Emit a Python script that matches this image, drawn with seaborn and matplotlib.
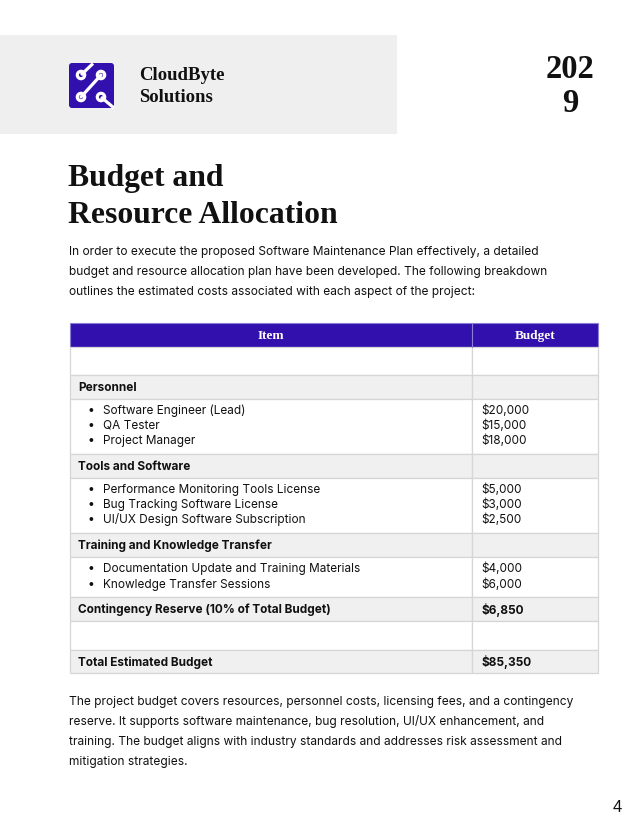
import matplotlib
matplotlib.use("Agg")
import matplotlib.pyplot as plt
import seaborn as sns
from matplotlib.patches import Rectangle, FancyBboxPatch, Circle

sns.set_style("white")
plt.rcParams['font.family'] = ['Inter', 'DejaVu Sans']

# page content
company = ["CloudByte", "Solutions"]
year_lines = ["202", "9"]
title_lines = ["Budget and", "Resource Allocation"]
intro_lines = [
    "In order to execute the proposed Software Maintenance Plan effectively, a detailed",
    "budget and resource allocation plan have been developed. The following breakdown",
    "outlines the estimated costs associated with each aspect of the project:",
]
outro_lines = [
    "The project budget covers resources, personnel costs, licensing fees, and a contingency",
    "reserve. It supports software maintenance, bug resolution, UI/UX enhancement, and",
    "training. The budget aligns with industry standards and addresses risk assessment and",
    "mitigation strategies.",
]
columns = ["Item", "Budget"]
categories = ["Personnel", "Tools and Software", "Training and Knowledge Transfer"]
cat_items = [
    ["Software Engineer (Lead)", "QA Tester", "Project Manager"],
    ["Performance Monitoring Tools License", "Bug Tracking Software License",
     "UI/UX Design Software Subscription"],
    ["Documentation Update and Training Materials", "Knowledge Transfer Sessions"],
]
cat_costs = [
    [20000, 15000, 18000],
    [5000, 3000, 2500],
    [4000, 6000],
]
contingency_label = "Contingency Reserve (10% of Total Budget)"
contingency = 6850
total_label = "Total Estimated Budget"
total = 85350
page_no = "4"

purple = "#3210ad"
gray = "#f0f0f0"
border = "#d6d6d6"
ink = "#111111"
serif = ['Liberation Serif', 'DejaVu Serif']
body_fs = 8.6
table_fs = 8.5

fig = plt.figure(figsize=(6.4, 8.28), dpi=100)
ax = fig.add_axes([0, 0, 1, 1])
ax.set_xlim(0, 640)
ax.set_ylim(828, 0)
ax.axis("off")

# header band
ax.add_patch(Rectangle((0, 36), 397, 99, color="#efefef", lw=0))

# logo
ax.add_patch(FancyBboxPatch((69, 64), 45, 45, boxstyle="round,pad=0,rounding_size=3",
                            fc=purple, ec="none"))
ax.plot([81, 93], [76, 64.5], color="white", lw=2.3, solid_capstyle="butt")
ax.plot([101, 81], [76, 98], color="white", lw=2.3)
ax.plot([101, 114], [98, 109], color="white", lw=2.3, solid_capstyle="butt")
for cx, cy in [(81, 76), (101, 76), (81, 98), (101, 98)]:
    ax.add_patch(Circle((cx, cy), 5.3, fc="white", ec="none"))
    ax.add_patch(Circle((cx, cy), 2.1, fc=purple, ec="none"))

for i, t in enumerate(company):
    ax.text(139, 75 + i * 23, t, family=serif, weight="bold", fontsize=13.5,
            color=ink, va="center", ha="left")
for i, t in enumerate(year_lines):
    ax.text(570, 69 + i * 35, t, family=serif, weight="bold", fontsize=23.5,
            color=ink, va="center", ha="center")

# title
for i, t in enumerate(title_lines):
    ax.text(68, 186 + i * 37, t, family=serif, weight="bold", fontsize=22.8,
            color=ink, va="baseline", ha="left")

for i, t in enumerate(intro_lines):
    ax.text(69, 252 + i * 20, t, fontsize=body_fs, color=ink, va="center", ha="left")

# table
x0, xm, x1 = 70, 472, 598
ax.add_patch(Rectangle((x0, 324), x1 - x0, 24, fc=purple, ec="#8a7fd6", lw=0.8))
ax.plot([xm, xm], [324, 348], color="#8a7fd6", lw=0.8)
ax.text((x0 + xm) / 2, 336, columns[0], family=serif, weight="bold", fontsize=9.5,
        color="white", ha="center", va="center")
ax.text((xm + x1) / 2, 336, columns[1], family=serif, weight="bold", fontsize=9.5,
        color="white", ha="center", va="center")

rows = [("", "", False, 28)]
for cat, items, costs in zip(categories, cat_items, cat_costs):
    rows.append((cat, "", True, 24))
    rows.append((items, ["${:,}".format(c) for c in costs], False, 10 + 15 * len(items)))
rows.append((contingency_label, "${:,}".format(contingency), True, 24))
rows.append(("", "", False, 29))
rows.append((total_label, "${:,}".format(total), True, 23))

y = 348
for left, right, shaded, h in rows:
    fc = gray if shaded else "white"
    ax.add_patch(Rectangle((x0, y), xm - x0, h, fc=fc, ec=border, lw=0.9))
    ax.add_patch(Rectangle((xm, y), x1 - xm, h, fc=fc, ec=border, lw=0.9))
    if isinstance(left, list):
        step = 15 if len(left) == 3 else 16
        top = y + 11 if len(left) == 3 else y + 11
        for k, (it, c) in enumerate(zip(left, right)):
            yy = top + k * step
            ax.text(91, yy, "\u2022", fontsize=table_fs, color=ink, ha="center", va="center")
            ax.text(103, yy, it, fontsize=table_fs, color=ink, ha="left", va="center")
            ax.text(481, yy, c, fontsize=table_fs, color=ink, ha="left", va="center")
    else:
        if left:
            ax.text(78, y + h / 2, left, fontsize=table_fs, weight="bold", color=ink,
                    ha="left", va="center")
        if right:
            ax.text(481, y + h / 2, right, fontsize=table_fs, weight="bold", color=ink,
                    ha="left", va="center")
    y += h

for i, t in enumerate(outro_lines):
    ax.text(69, 702 + i * 20, t, fontsize=body_fs, color=ink, va="center", ha="left")

ax.text(622, 808, page_no, family=['Liberation Sans', 'DejaVu Sans'], fontsize=12,
        color=ink, ha="right", va="center")

fig.savefig("out.png", dpi=100)
